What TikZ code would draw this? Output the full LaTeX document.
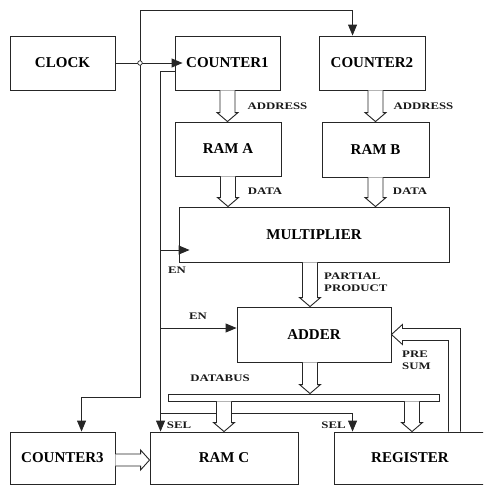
\documentclass[tikz,border=0pt]{standalone}
\usepackage{fontspec}
\setmainfont{Liberation Serif}
\usetikzlibrary{arrows.meta,calc}
\newcommand\lbtxt[1]{\scalebox{1.28}[1]{#1}}
\newcommand\hdown[2]{%
  \coordinate (ha) at (#1); \coordinate (hb) at (#2);
  \draw[hollow] ($(ha)+(-7.5,0)$) -- ($(hb)+(-7.5,-9)$) -- ($(hb)+(-10.5,-9)$) -- (hb)
    -- ($(hb)+(10.5,-9)$) -- ($(hb)+(7.5,-9)$) -- ($(ha)+(7.5,0)$);}
\begin{document}
\begin{tikzpicture}[x=1pt,y=-1pt,
  wire/.style={draw=black!85, line width=0.9pt},
  arr/.style={-{Triangle[length=11pt,width=9pt]}},
  box/.style={draw=black!85, line width=0.9pt, font=\bfseries\fontsize{15}{15}\selectfont, inner sep=0},
  hollow/.style={draw=black!85, line width=0.9pt, fill=white},
  lbl/.style={font=\bfseries\fontsize{10}{12}\selectfont, inner sep=0, text=black!90}]
\useasboundingbox (0,0) rectangle (483,485);
\clip (0,0) rectangle (483,485);
% boxes
\node[box, minimum width=105pt, minimum height=54pt] (clock) at (62.5,63) {CLOCK};
\node[box, minimum width=105pt, minimum height=54pt] (counter1) at (227.5,63) {COUNTER1};
\node[box, minimum width=106pt, minimum height=54pt] (counter2) at (372,63) {COUNTER2};
\node[box, minimum width=106pt, minimum height=54pt] (ramA) at (228,149) {RAM A};
\node[box, minimum width=107pt, minimum height=55pt] (ramB) at (375.5,149.5) {RAM B};
\node[box, minimum width=270pt, minimum height=55pt] (mult) at (314,234.5) {MULTIPLIER};
\node[box, minimum width=154pt, minimum height=55pt] (adder) at (314,334.5) {ADDER};
\node[box, minimum width=105pt, minimum height=52pt] (counter3) at (62.5,458) {COUNTER3};
\node[box, minimum width=148pt, minimum height=52pt] (ramC) at (224,458) {RAM C};
\node[box, minimum width=152pt, minimum height=52pt] (register) at (410,458) {REGISTER};
\node[draw=black!85, line width=0.9pt, inner sep=0, minimum width=271pt, minimum height=7pt] (bus) at (303.5,397.5) {};
% control wires
\coordinate (tl) at (140,10);
\coordinate (bl) at (140,397);
\coordinate (c2in) at ($(counter2.north west)+(34,0)$);
\coordinate (c3in) at ($(counter3.north west)+(72,0)$);
\draw[wire,arr] (tl) -| (c2in);
\draw[wire,arr] (tl) -- (bl) -| (c3in);
\draw[wire,arr] (clock.east) -- ($(counter1.west)+(8,0)$);
\coordinate (c1en) at ($(counter1.west)+(0,8)$);
\coordinate (rcin) at ($(ramC.north west)+(11,0)$);
\draw[wire,arr] (c1en) -| (rcin);
\coordinate (mulen) at ($(mult.west)+(11,15.5)$);
\draw[wire,arr] (rcin |- mulen) -- (mulen);
\coordinate (adden) at ($(adder.west)+(0,-6.5)$);
\draw[wire,arr] (rcin |- adden) -- (adden);
\coordinate (selrow) at (161,413);
\coordinate (regsel) at ($(register.north west)+(19,0)$);
\draw[wire,arr] (selrow) -| (regsel);
\node[circle, draw=black!85, line width=0.7pt, fill=white, inner sep=0, minimum size=4.5pt] (jdot) at (tl |- clock.east) {};
% hollow bus arrows
\hdown{counter1.south}{counter1.south |- ramA.north}
\hdown{ramB.north |- counter2.south}{ramB.north}
\hdown{ramA.south}{ramA.south |- mult.north}
\hdown{ramB.south}{ramB.south |- mult.north}
\coordinate (pp) at ($(mult.south)+(-4,0)$);
\hdown{pp}{pp |- adder.north}
\coordinate (ao) at ($(adder.south)+(-4,0)$);
\hdown{ao}{ao |- bus.north}
\hdown{bus.south -| ramC.north}{ramC.north}
\coordinate (b2) at ($(register.north)+(2,0)$);
\hdown{b2 |- bus.south}{b2}
% counter3 -> ram C
\coordinate (ra) at ($(counter3.east)+(0,2)$);
\coordinate (rb) at (ra -| ramC.west);
\draw[hollow] ($(ra)+(0,-6)$) -- ($(rb)+(-9,-6)$) -- ($(rb)+(-9,-10)$) -- (rb)
  -- ($(rb)+(-9,10)$) -- ($(rb)+(-9,6)$) -- ($(ra)+(0,6)$);
% pre sum feedback
\coordinate (pt) at (adder.east);
\coordinate (vl) at ($(pt)+(57,0)$);
\coordinate (vr) at ($(pt)+(69,0)$);
\draw[hollow] (vl |- register.north) -- ($(vl)+(0,6)$) -- ($(pt)+(11,6)$) -- ($(pt)+(11,10)$) -- (pt)
  -- ($(pt)+(11,-10)$) -- ($(pt)+(11,-6)$) -- ($(vr)+(0,-6)$) -- (vr |- register.north);
% labels
\node[lbl] (laddr1) at (277.5,106) {\lbtxt{ADDRESS}};
\node[lbl] (laddr2) at (423.5,106) {\lbtxt{ADDRESS}};
\node[lbl] (ldata1) at (265,191) {\lbtxt{DATA}};
\node[lbl] (ldata2) at (410,191) {\lbtxt{DATA}};
\node[lbl] (len1) at (177,270) {\lbtxt{EN}};
\node[lbl, anchor=west, align=left] (lpp) at (324,282) {\lbtxt{PARTIAL}\\\lbtxt{PRODUCT}};
\node[lbl] (len2) at (198,316) {\lbtxt{EN}};
\node[lbl, anchor=west, align=left] (lpre) at (402,360.5) {\lbtxt{PRE}\\\lbtxt{SUM}};
\node[lbl] (lbus) at (220,378) {\lbtxt{DATABUS}};
\node[lbl] (lsel1) at (179,425) {\lbtxt{SEL}};
\node[lbl] (lsel2) at (333.5,425) {\lbtxt{SEL}};
\end{tikzpicture}
\end{document}
